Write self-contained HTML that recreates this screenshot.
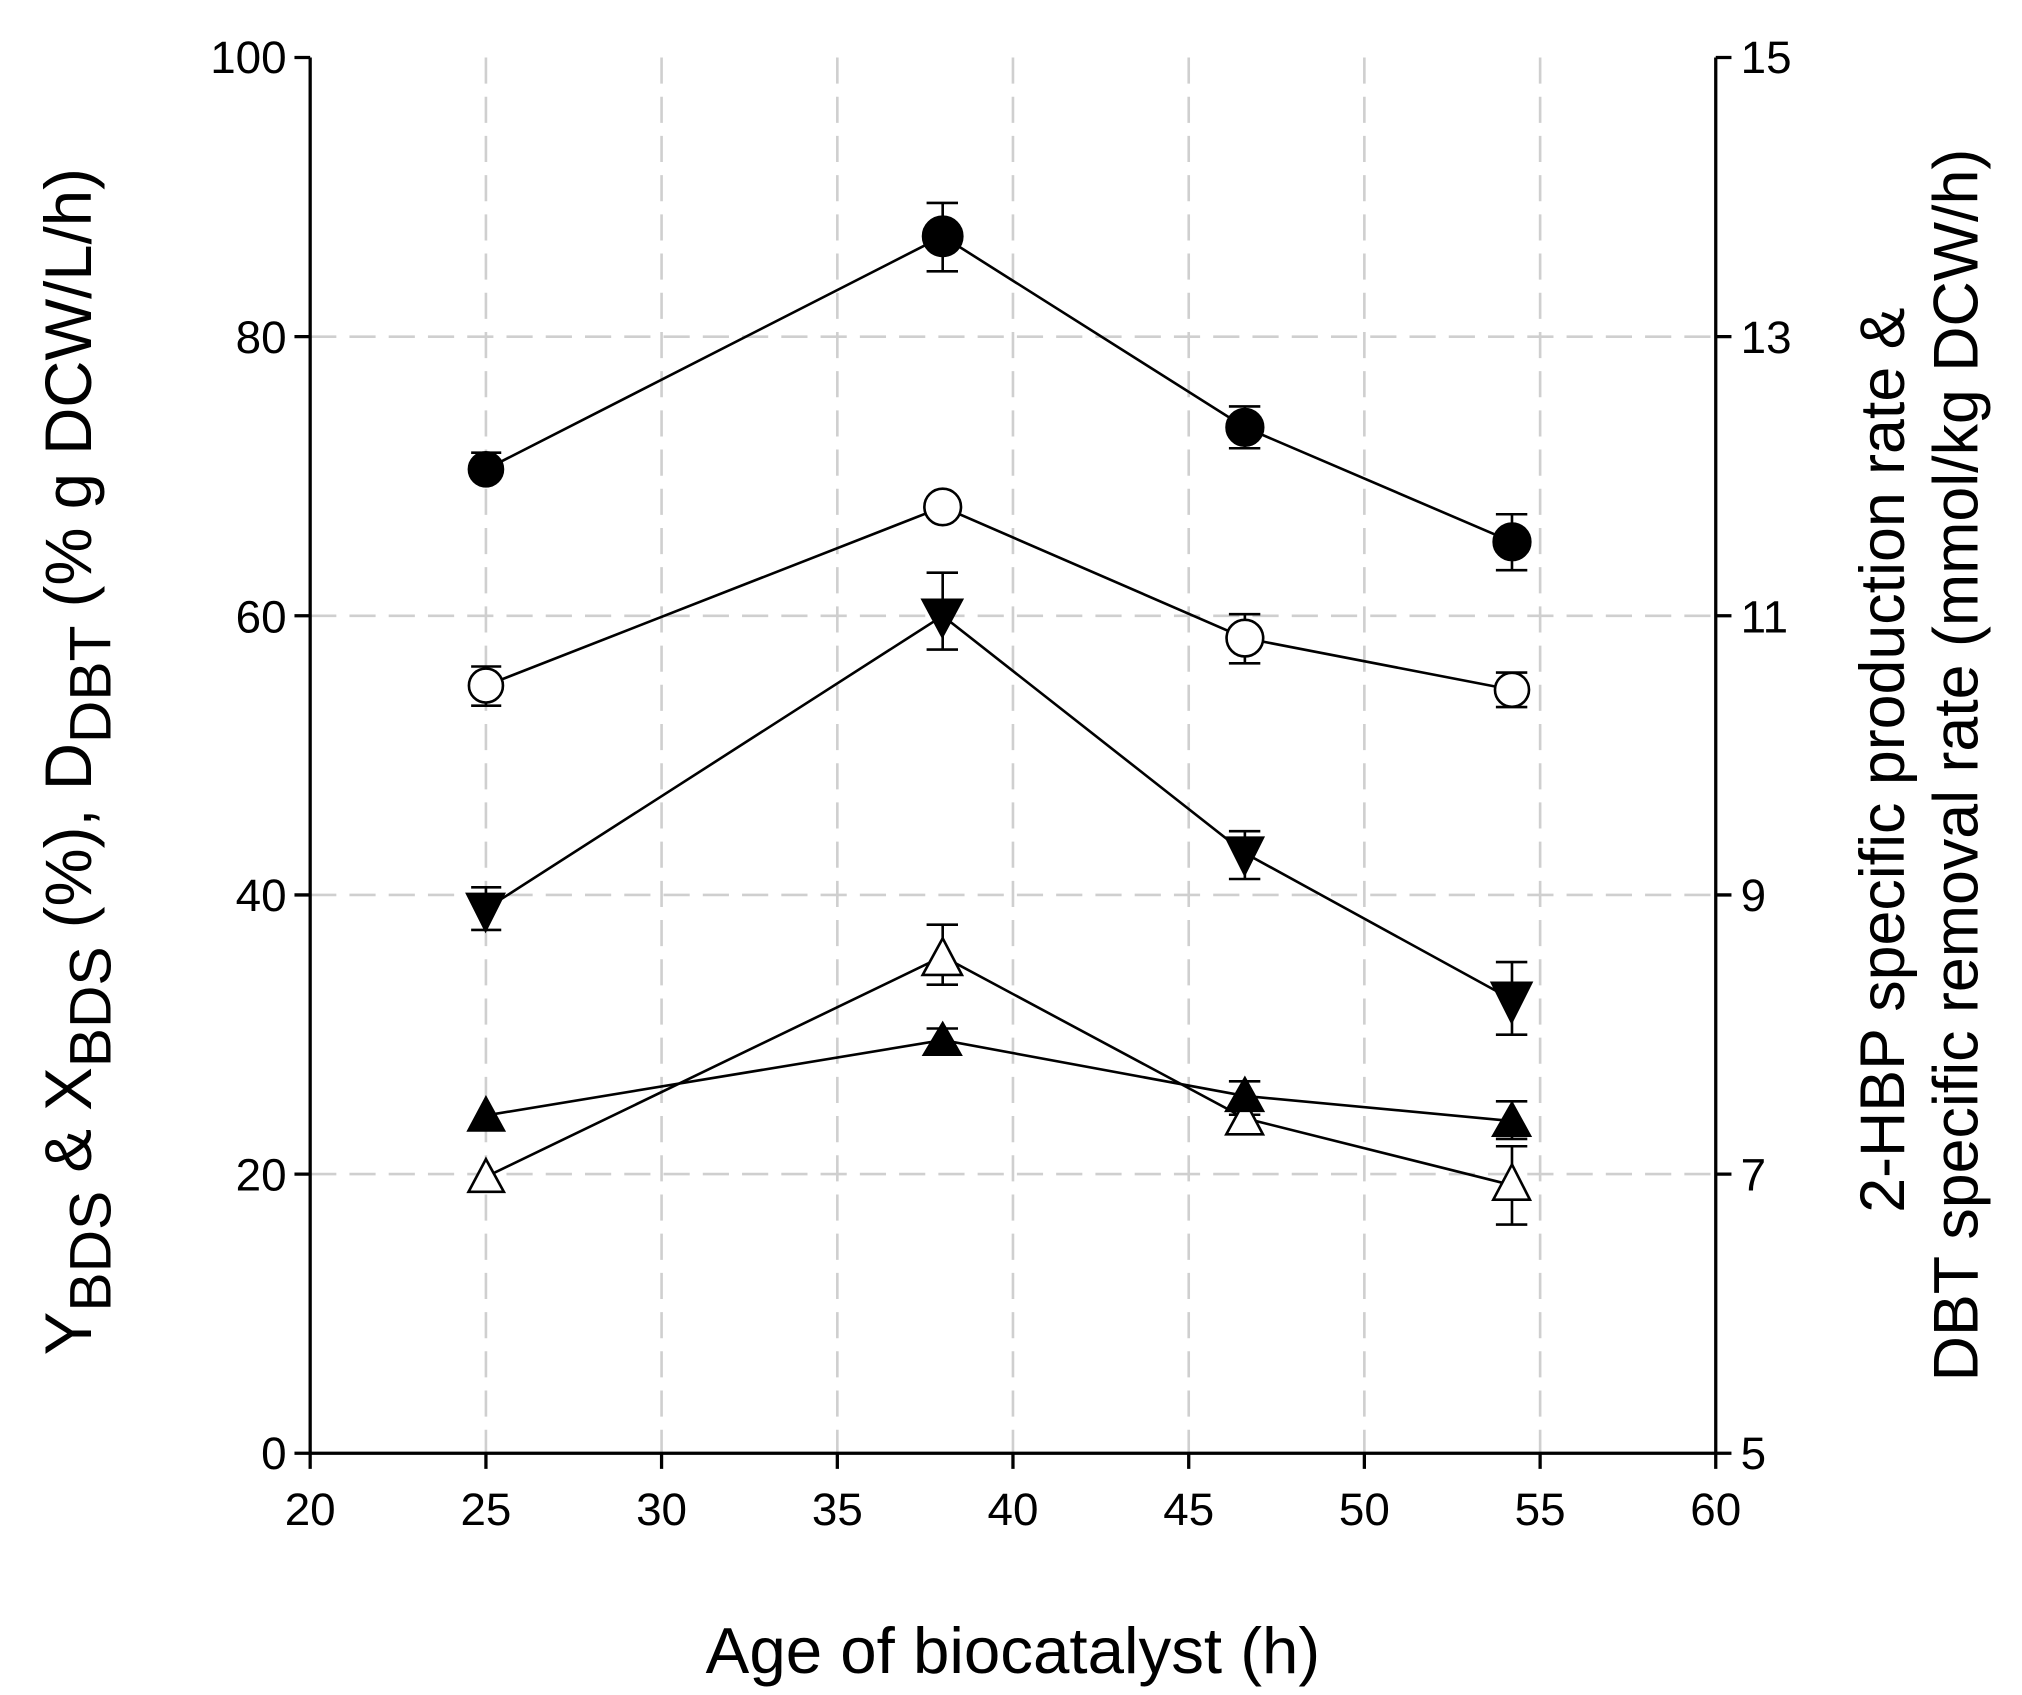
<!DOCTYPE html>
<html><head><meta charset="utf-8"><style>html,body{margin:0;padding:0;background:#fff}svg{display:block}</style></head>
<body>
<svg width="2022" height="1695" viewBox="0 0 1545 1297" preserveAspectRatio="none" xmlns="http://www.w3.org/2000/svg" font-family="Liberation Sans, Arial, sans-serif">
<rect width="1545" height="1297" fill="#fff"/>
<g stroke="#cfcfcf" stroke-width="2" stroke-dasharray="20,10">
<line x1="371.3" y1="44" x2="371.3" y2="1112"/><line x1="505.5" y1="44" x2="505.5" y2="1112"/><line x1="639.8" y1="44" x2="639.8" y2="1112"/><line x1="774" y1="44" x2="774" y2="1112"/><line x1="908.3" y1="44" x2="908.3" y2="1112"/><line x1="1042.5" y1="44" x2="1042.5" y2="1112"/><line x1="1176.8" y1="44" x2="1176.8" y2="1112"/>
<line x1="237" y1="898.4" x2="1311" y2="898.4"/><line x1="237" y1="684.8" x2="1311" y2="684.8"/><line x1="237" y1="471.2" x2="1311" y2="471.2"/><line x1="237" y1="257.6" x2="1311" y2="257.6"/>
</g>
<g stroke="#000" stroke-width="2.5" fill="none">
<line x1="237" y1="44" x2="237" y2="1112"/><line x1="1311" y1="44" x2="1311" y2="1112"/><line x1="237" y1="1112" x2="1311" y2="1112"/>
<path d="M225 44H237M225 257.6H237M225 471.2H237M225 684.8H237M225 898.4H237M225 1112H237"/>
<path d="M1311 44H1323M1311 257.6H1323M1311 471.2H1323M1311 684.8H1323M1311 898.4H1323M1311 1112H1323"/>
<path d="M237 1112V1124M371.3 1112V1124M505.5 1112V1124M639.8 1112V1124M774 1112V1124M908.3 1112V1124M1042.5 1112V1124M1176.8 1112V1124M1311 1112V1124"/>
</g>
<g font-size="35" text-anchor="end">
<text x="219" y="56">100</text><text x="219" y="270">80</text><text x="219" y="484">60</text><text x="219" y="697">40</text><text x="219" y="911">20</text><text x="219" y="1124">0</text>
</g>
<g font-size="35" text-anchor="start">
<text x="1330" y="56">15</text><text x="1330" y="270">13</text><text x="1330" y="484">11</text><text x="1330" y="697">9</text><text x="1330" y="911">7</text><text x="1330" y="1124">5</text>
</g>
<g font-size="35" text-anchor="middle">
<text x="237" y="1167">20</text><text x="371.3" y="1167">25</text><text x="505.5" y="1167">30</text><text x="639.8" y="1167">35</text><text x="774" y="1167">40</text><text x="908.3" y="1167">45</text><text x="1042.5" y="1167">50</text><text x="1176.8" y="1167">55</text><text x="1311" y="1167">60</text>
</g>
<text x="774" y="1280" font-size="50" text-anchor="middle">Age of biocatalyst (h)</text>
<text transform="translate(69.5,1037) rotate(-90)" font-size="50" text-anchor="start">Y<tspan font-size="45" dy="15">BDS</tspan><tspan dy="-15"> &amp; X</tspan><tspan font-size="45" dy="15">BDS</tspan><tspan dy="-15"> (%), D</tspan><tspan font-size="45" dy="15">DBT</tspan><tspan dy="-15"> (% g DCW/L/h)</tspan></text>
<text transform="translate(1455,928) rotate(-90)" font-size="48" text-anchor="start">2-HBP specific production rate &amp;</text>
<text transform="translate(1511,1057) rotate(-90)" font-size="48" text-anchor="start">DBT specific removal rate (mmol/kg DCW/h)</text>
<g stroke="#000" stroke-width="2" fill="none">
<polyline points="371.3,359.1 720.3,180.8 951.2,327 1155.3,414.6"/>
<polyline points="371.3,524.6 720.3,387.9 951.2,488.3 1155.3,527.8"/>
<polyline points="371.3,695.5 720.3,471.2 951.2,652.8 1155.3,764.9"/>
<polyline points="371.3,900.5 720.3,731.8 951.2,855.7 1155.3,906.9"/>
<polyline points="371.3,853.5 720.3,795.9 951.2,838.6 1155.3,857.8"/>
<path d="M371.3 346.4V363.8M360 346.4H383M360 363.8H383 M720.3 155.3V207.6M708 155.3H732M708 207.6H732 M951.2 311V343M939 311H963M939 343H963 M1155.3 393.5V436.3M1143 393.5H1167M1143 436.3H1167"/>
<path d="M371.3 510V540M360 510H383M360 540H383 M951.2 470V507.6M939 470H963M939 507.6H963 M1155.3 514.6V541M1143 514.6H1167M1143 541H1167"/>
<path d="M371.3 679V711.6M360 679H383M360 711.6H383 M720.3 438.2V497M708 438.2H732M708 497H732 M951.2 636V672.6M939 636H963M939 672.6H963 M1155.3 736.2V791.7M1143 736.2H1167M1143 791.7H1167"/>
<path d="M720.3 707.6V753.5M708 707.6H732M708 753.5H732 M1155.3 877.1V937M1143 877.1H1167M1143 937H1167"/>
<path d="M720.3 787V803M708 787H732M708 803H732 M951.2 827.4V853M939 827.4H963M939 853H963 M1155.3 842.7V871.5M1143 842.7H1167M1143 871.5H1167"/>
</g>
<g stroke="#000" stroke-width="2">
<g fill="#000"><circle cx="371.3" cy="359.1" r="13"/><circle cx="720.3" cy="180.8" r="15"/><circle cx="951.2" cy="327" r="14"/><circle cx="1155.3" cy="414.6" r="14"/></g>
<g fill="#fff"><circle cx="371.3" cy="524.6" r="13"/><circle cx="720.3" cy="387.9" r="14"/><circle cx="951.2" cy="488.3" r="14"/><circle cx="1155.3" cy="527.8" r="13"/></g>
<g fill="#000"><path d="M357 684H385L371 712Z"/><path d="M705 459H735L720 487Z"/><path d="M937 641H965L951 669Z"/><path d="M1140 752H1170L1155 782Z"/></g>
<g fill="#fff"><path d="M358 912H385L371.3 887Z"/><path d="M705 746H735L720.3 718Z"/><path d="M937 868H965L951.2 842Z"/><path d="M1141 918H1169L1155.3 891Z"/></g>
<g fill="#000"><path d="M358 865H385L371.3 840Z"/><path d="M706 807H734L720.3 783Z"/><path d="M937 850H965L951.2 825Z"/><path d="M1141 869H1169L1155.3 844Z"/></g>
</g>
</svg>
</body></html>
